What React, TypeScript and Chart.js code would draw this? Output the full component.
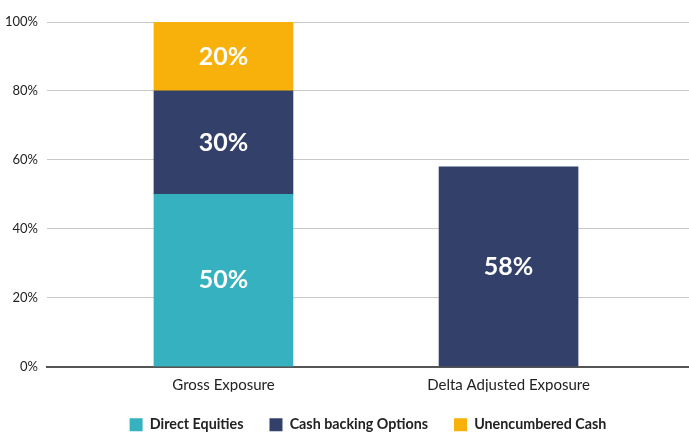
import React, { useEffect, useRef } from "react";
import { Chart, registerables } from "chart.js";

Chart.register(...registerables);

const categories = ["Gross Exposure", "Delta Adjusted Exposure"];
const directEquities = [50, null];
const cashBackingOptions = [30, 58];
const unencumberedCash = [20, null];
const yTicks = [0, 20, 40, 60, 80, 100];

const FONT = "Lato, 'Noto Sans', sans-serif";

const labelPlugin = {
  id: "segLabels",
  afterDatasetsDraw(chart: any) {
    const ctx = chart.ctx;
    ctx.save();
    ctx.fillStyle = "#ffffff";
    ctx.font = `bold 25px ${FONT}`;
    ctx.textAlign = "center";
    ctx.textBaseline = "middle";
    chart.data.datasets.forEach((ds: any, di: number) => {
      const meta = chart.getDatasetMeta(di);
      meta.data.forEach((el: any, i: number) => {
        const v = ds.data[i]?.y;
        if (v == null) return;
        ctx.fillText(`${v}%`, el.x, (el.y + el.base) / 2);
      });
    });
    ctx.restore();
  },
};

export default function App() {
  const ref = useRef<HTMLCanvasElement>(null);
  useEffect(() => {
    document.body.style.margin = "0";
    const toPts = (arr: (number | null)[]) =>
      arr.map((v, i) => ({ x: i, y: v })).filter((p) => p.y != null);
    const chart = new Chart(ref.current!, {
      type: "bar",
      data: {
        datasets: [
          { label: "Direct Equities", data: toPts(directEquities) as any, backgroundColor: "#36B1BF" },
          { label: "Cash backing Options", data: toPts(cashBackingOptions) as any, backgroundColor: "#33416A" },
          { label: "Unencumbered Cash", data: toPts(unencumberedCash) as any, backgroundColor: "#F8B10B" },
        ],
      },
      options: {
        animation: false,
        responsive: false,
        maintainAspectRatio: false,
        layout: { padding: { top: 22, right: 0, left: 0, bottom: -10 } },
        datasets: { bar: { barThickness: 139 } },
        scales: {
          x: {
            type: "linear",
            stacked: true,
            offset: false,
            min: -0.619,
            max: 1.633,
            afterBuildTicks: (s: any) => {
              s.ticks = categories.map((_, i) => ({ value: i }));
            },
            afterFit: (s: any) => {
              s.height = 25;
            },
            ticks: {
              callback: (v: any) => categories[v as number] ?? "",
              color: "#222",
              font: { family: FONT, size: 15 },
              padding: 9,
              maxRotation: 0,
              autoSkip: false,
            },
            grid: { display: false, drawTicks: false },
            border: { display: true, color: "#555", width: 2 },
          },
          y: {
            stacked: true,
            min: 0,
            max: 100,
            afterBuildTicks: (s: any) => {
              s.ticks = yTicks.map((v) => ({ value: v }));
            },
            afterFit: (s: any) => {
              s.width = 47;
            },
            ticks: {
              callback: (v: any) => `${v}%`,
              color: "#222",
              font: { family: FONT, size: 13 },
              padding: 9,
            },
            grid: { color: "#c8c8c8", lineWidth: 1, drawTicks: false },
            border: { display: false },
          },
        },
        plugins: {
          tooltip: { enabled: false },
          legend: {
            position: "bottom",
            fullSize: false,
            labels: {
              boxWidth: 13,
              boxHeight: 13,
              color: "#222",
              font: { family: FONT, size: 14.3, weight: "bold" },
              padding: 26,
            },
          },
        },
      },
      plugins: [labelPlugin],
    });
    return () => chart.destroy();
  }, []);
  return (
    <div style={{ width: 689, height: 432 }}>
      <canvas ref={ref} width={689} height={432} style={{ width: 689, height: 432 }} />
    </div>
  );
}
